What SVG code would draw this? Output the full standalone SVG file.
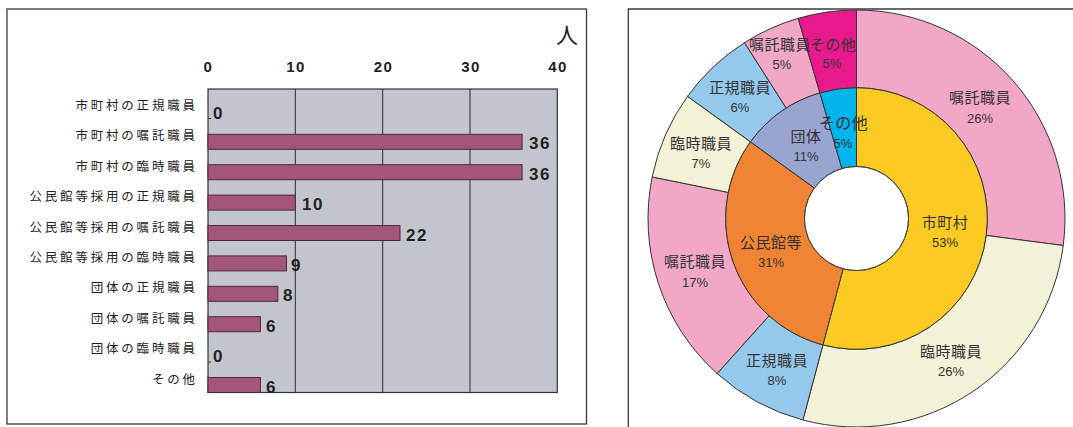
<svg xmlns="http://www.w3.org/2000/svg" width="1073" height="427" viewBox="0 0 1073 427">
<style>
.frame{fill:none;stroke:#3a3a3a;stroke-width:1.3}
.cat{font-family:"Noto Sans CJK JP","Noto Sans CJK SC",sans-serif;font-size:12.5px;letter-spacing:2.8px;fill:#222;text-anchor:end}
.tick{font-family:"Liberation Sans",Arial,sans-serif;font-weight:bold;font-size:15px;letter-spacing:1.5px;fill:#222;text-anchor:middle}
.val{font-family:"Liberation Sans",Arial,sans-serif;font-weight:bold;font-size:17px;letter-spacing:1.5px;fill:#222}
.bar{fill:#a3557a;stroke:#4a2a3a;stroke-width:1}
.grid{stroke:#2a2a2a;stroke-width:1}
.seg{stroke:#333;stroke-width:1}
.lj{font-family:"Noto Sans CJK JP","Noto Sans CJK SC",sans-serif;font-size:15px;letter-spacing:0.5px;fill:#333;text-anchor:middle}
.lp{font-family:"Liberation Sans",Arial,sans-serif;font-size:13px;fill:#333;text-anchor:middle}
</style>
<rect width="1073" height="427" fill="#ffffff"/>

<g id="bar-chart">
  <rect class="frame" x="7" y="9" width="579.5" height="415"/>
  <text x="567" y="43" font-family="Noto Sans CJK JP,sans-serif" font-size="22" fill="#222" text-anchor="middle">人</text>
  <rect x="208" y="89" width="349.3" height="303.5" fill="#c2c5cd" stroke="#333" stroke-width="1.2"/>
  <line class="grid" x1="295.3" y1="89" x2="295.3" y2="392.5"/>
  <line class="grid" x1="382.7" y1="89" x2="382.7" y2="392.5"/>
  <line class="grid" x1="470" y1="89" x2="470" y2="392.5"/>
  <text class="tick" x="208.5" y="72">0</text>
  <text class="tick" x="296" y="72">10</text>
  <text class="tick" x="383.5" y="72">20</text>
  <text class="tick" x="471" y="72">30</text>
  <text class="tick" x="558" y="72">40</text>

  <g id="row0"><text class="cat" x="197.8" y="110">市町村の正規職員</text><line x1="208.5" y1="118.5" x2="211" y2="118.5" stroke="#333"/><text class="val" x="213" y="118.9">0</text></g>
  <g id="row1"><text class="cat" x="197.8" y="140.4">市町村の嘱託職員</text><rect class="bar" x="208" y="134.3" width="314.1" height="15"/><text class="val" x="529" y="149.3">36</text></g>
  <g id="row2"><text class="cat" x="197.8" y="170.8">市町村の臨時職員</text><rect class="bar" x="208" y="164.7" width="314.1" height="15"/><text class="val" x="529" y="179.7">36</text></g>
  <g id="row3"><text class="cat" x="197.8" y="201.2">公民館等採用の正規職員</text><rect class="bar" x="208" y="195.1" width="87.3" height="15"/><text class="val" x="302" y="210.1">10</text></g>
  <g id="row4"><text class="cat" x="197.8" y="231.6">公民館等採用の嘱託職員</text><rect class="bar" x="208" y="225.5" width="192" height="15"/><text class="val" x="406" y="240.5">22</text></g>
  <g id="row5"><text class="cat" x="197.8" y="262">公民館等採用の臨時職員</text><rect class="bar" x="208" y="255.9" width="78.5" height="15"/><text class="val" x="291" y="270.9">9</text></g>
  <g id="row6"><text class="cat" x="197.8" y="292.4">団体の正規職員</text><rect class="bar" x="208" y="286.3" width="69.8" height="15"/><text class="val" x="283" y="301.3">8</text></g>
  <g id="row7"><text class="cat" x="197.8" y="322.8">団体の嘱託職員</text><rect class="bar" x="208" y="316.7" width="52.4" height="15"/><text class="val" x="266" y="331.7">6</text></g>
  <g id="row8"><text class="cat" x="197.8" y="353.2">団体の臨時職員</text><line x1="208.5" y1="362" x2="211" y2="362" stroke="#333"/><text class="val" x="213" y="362.1">0</text></g>
  <g id="row9"><text class="cat" x="197.8" y="383.6">その他</text><rect class="bar" x="208" y="377.5" width="52.4" height="15"/><text class="val" x="266" y="392.5">6</text></g>
</g>

<g id="donut-chart">
  <path d="M628.3,427 L628.3,9 L1073,9" fill="none" stroke="#3a3a3a" stroke-width="1.3"/>
  <g id="outer-ring">
    <path id="o-shokutaku-shi" class="seg" fill="#f1a7c5" d="M856.5,10 A208.5,208.5 0 0 1 1063.24,245.51 L986.2,235.45 A130.8,130.8 0 0 0 856.5,87.7 Z"/>
    <path id="o-rinji-shi" class="seg" fill="#f3f1d6" d="M1063.24,245.51 A208.5,208.5 0 0 1 802.93,420 L822.9,344.91 A130.8,130.8 0 0 0 986.2,235.45 Z"/>
    <path id="o-seiki-ko" class="seg" fill="#94c9ec" d="M802.93,420 A208.5,208.5 0 0 1 717.11,373.55 L769.05,315.77 A130.8,130.8 0 0 0 822.9,344.91 Z"/>
    <path id="o-shokutaku-ko" class="seg" fill="#f1a7c5" d="M717.11,373.55 A208.5,208.5 0 0 1 652.19,176.92 L728.33,192.41 A130.8,130.8 0 0 0 769.05,315.77 Z"/>
    <path id="o-rinji-ko" class="seg" fill="#f3f1d6" d="M652.19,176.92 A208.5,208.5 0 0 1 687.53,96.34 L750.5,141.87 A130.8,130.8 0 0 0 728.33,192.41 Z"/>
    <path id="o-seiki-dan" class="seg" fill="#94c9ec" d="M687.53,96.34 A208.5,208.5 0 0 1 744.53,42.62 L786.26,108.16 A130.8,130.8 0 0 0 750.5,141.87 Z"/>
    <path id="o-shokutaku-dan" class="seg" fill="#f1a7c5" d="M744.53,42.62 A208.5,208.5 0 0 1 798.19,18.32 L819.92,92.92 A130.8,130.8 0 0 0 786.26,108.16 Z"/>
    <path id="o-sonota" class="seg" fill="#e8198b" d="M798.19,18.32 A208.5,208.5 0 0 1 856.5,10 L856.5,87.7 A130.8,130.8 0 0 0 819.92,92.92 Z"/>
  </g>
  <g id="inner-ring">
    <path id="i-shichoson" class="seg" fill="#fbcb23" d="M856.5,87.7 A130.8,130.8 0 1 1 822.9,344.91 L843.14,268.75 A52,52 0 1 0 856.5,166.5 Z"/>
    <path id="i-kominkan" class="seg" fill="#f08434" d="M822.9,344.91 A130.8,130.8 0 0 1 750.5,141.87 L814.36,188.03 A52,52 0 0 0 843.14,268.75 Z"/>
    <path id="i-dantai" class="seg" fill="#9aa4d1" d="M750.5,141.87 A130.8,130.8 0 0 1 819.92,92.92 L841.96,168.57 A52,52 0 0 0 814.36,188.03 Z"/>
    <path id="i-sonota" class="seg" fill="#00b5ec" d="M819.92,92.92 A130.8,130.8 0 0 1 856.5,87.7 L856.5,166.5 A52,52 0 0 0 841.96,168.57 Z"/>
    <circle cx="856.5" cy="218.5" r="52" fill="#ffffff" stroke="#333" stroke-width="1"/>
  </g>
  <g id="labels">
    <text class="lj" x="980" y="103">嘱託職員</text><text class="lp" x="980" y="123">26%</text>
    <text class="lj" x="951" y="357">臨時職員</text><text class="lp" x="951" y="376">26%</text>
    <text class="lj" x="777" y="365.5">正規職員</text><text class="lp" x="777" y="385">8%</text>
    <text class="lj" x="695" y="267">嘱託職員</text><text class="lp" x="695" y="286.5">17%</text>
    <text class="lj" x="701" y="149">臨時職員</text><text class="lp" x="701" y="168">7%</text>
    <text class="lj" x="740" y="93">正規職員</text><text class="lp" x="740" y="112">6%</text>
    <text class="lj" x="780" y="50">嘱託職員</text><text class="lp" x="782" y="69">5%</text>
    <text class="lj" x="833" y="50">その他</text><text class="lp" x="832" y="68">5%</text>
    <text class="lj" x="945" y="228">市町村</text><text class="lp" x="945" y="246.5">53%</text>
    <text class="lj" x="771" y="248">公民館等</text><text class="lp" x="771" y="266.5">31%</text>
    <text class="lj" x="806" y="142">団体</text><text class="lp" x="806" y="161">11%</text>
    <text class="lj" x="843.5" y="128.5" style="font-size:16px">その他</text><text class="lp" x="843" y="147.5">5%</text>
  </g>
</g>
</svg>
